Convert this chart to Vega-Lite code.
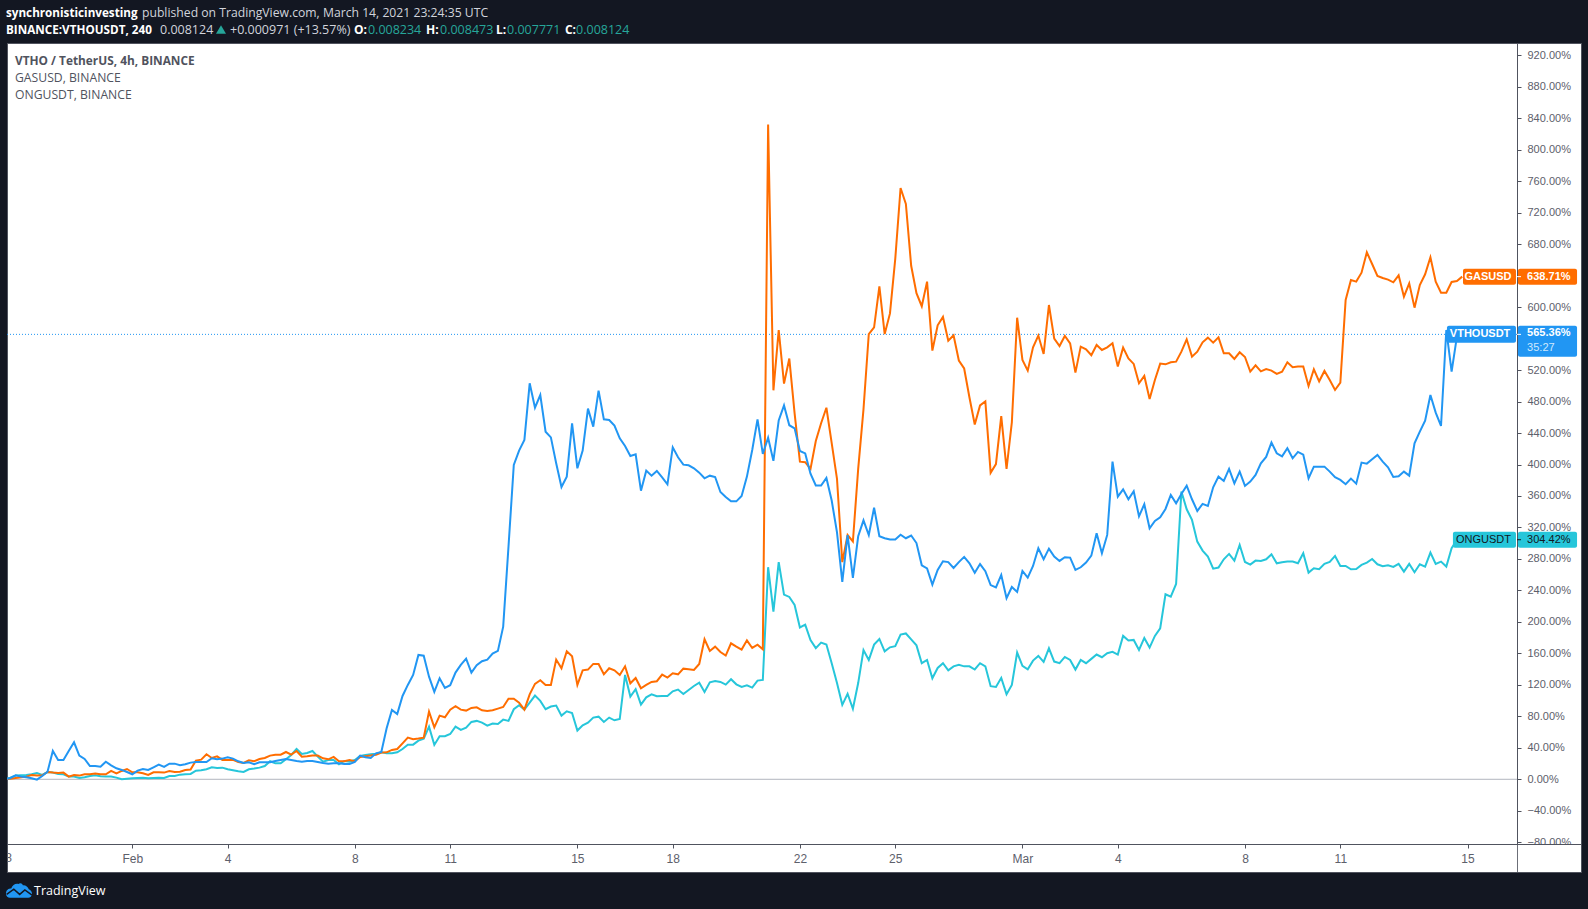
{
"$schema":"https://vega.github.io/schema/vega-lite/v6.json",
"width":1574,"height":829,
"autosize":"none",
"padding":{"left":7,"top":43,"right":7,"bottom":37},
"background":"#131722",
"view":{"fill":"#ffffff","stroke":"#50535e","strokeWidth":1},
"config":{"text":{"align":"left","baseline":"middle","font":"Open Sans","fontSize":12.2,"color":"#d1d4dc"},"font":"Liberation Sans"},
"data":{"values":[{}]},
"datasets":{"bars":[
{"t":"2021-01-28T00:00Z","vtho":0,"gas":0,"ong":0},
{"t":"2021-01-28T04:00Z","vtho":1.7,"gas":0.8,"ong":2.1},
{"t":"2021-01-28T08:00Z","vtho":5.1,"gas":1.7,"ong":4.7},
{"t":"2021-01-28T12:00Z","vtho":3.4,"gas":2.5,"ong":5.1},
{"t":"2021-01-28T16:00Z","vtho":2.5,"gas":3.4,"ong":5.5},
{"t":"2021-01-28T20:00Z","vtho":1.3,"gas":5.5,"ong":6.4},
{"t":"2021-01-29T00:00Z","vtho":-0.4,"gas":4.7,"ong":8},
{"t":"2021-01-29T04:00Z","vtho":4.2,"gas":5.1,"ong":5.5},
{"t":"2021-01-29T08:00Z","vtho":9.7,"gas":9.3,"ong":9.3},
{"t":"2021-01-29T12:00Z","vtho":36,"gas":8.5,"ong":8.5},
{"t":"2021-01-29T16:00Z","vtho":24.6,"gas":8,"ong":6.8},
{"t":"2021-01-29T20:00Z","vtho":24.6,"gas":8.5,"ong":6.4},
{"t":"2021-01-30T00:00Z","vtho":36,"gas":3.4,"ong":3.4},
{"t":"2021-01-30T04:00Z","vtho":47,"gas":5.5,"ong":3.4},
{"t":"2021-01-30T08:00Z","vtho":30.1,"gas":4.7,"ong":1.7},
{"t":"2021-01-30T12:00Z","vtho":25.8,"gas":6.4,"ong":2.5},
{"t":"2021-01-30T16:00Z","vtho":16.9,"gas":6.4,"ong":4.2},
{"t":"2021-01-30T20:00Z","vtho":16.9,"gas":7.2,"ong":5.1},
{"t":"2021-01-31T00:00Z","vtho":16.1,"gas":6.4,"ong":3.8},
{"t":"2021-01-31T04:00Z","vtho":22.4,"gas":6.4,"ong":3.4},
{"t":"2021-01-31T08:00Z","vtho":17.8,"gas":10.6,"ong":3.4},
{"t":"2021-01-31T12:00Z","vtho":14,"gas":7.6,"ong":2.1},
{"t":"2021-01-31T16:00Z","vtho":11.9,"gas":10.6,"ong":0},
{"t":"2021-01-31T20:00Z","vtho":9.3,"gas":13.1,"ong":0.8},
{"t":"2021-02-01T00:00Z","vtho":6.4,"gas":8.9,"ong":1.3},
{"t":"2021-02-01T04:00Z","vtho":11,"gas":8.9,"ong":1.7},
{"t":"2021-02-01T08:00Z","vtho":13.1,"gas":7.6,"ong":2.1},
{"t":"2021-02-01T12:00Z","vtho":11.9,"gas":5.5,"ong":1.3},
{"t":"2021-02-01T16:00Z","vtho":15.2,"gas":8.9,"ong":1.7},
{"t":"2021-02-01T20:00Z","vtho":18.6,"gas":8.9,"ong":2.1},
{"t":"2021-02-02T00:00Z","vtho":15.7,"gas":8.5,"ong":1.7},
{"t":"2021-02-02T04:00Z","vtho":19.9,"gas":10.6,"ong":4.2},
{"t":"2021-02-02T08:00Z","vtho":19.9,"gas":9.3,"ong":4.2},
{"t":"2021-02-02T12:00Z","vtho":17.8,"gas":9.7,"ong":5.9},
{"t":"2021-02-02T16:00Z","vtho":19.1,"gas":11.9,"ong":6.4},
{"t":"2021-02-02T20:00Z","vtho":21.2,"gas":12.3,"ong":6.8},
{"t":"2021-02-03T00:00Z","vtho":22,"gas":23.7,"ong":11},
{"t":"2021-02-03T04:00Z","vtho":22,"gas":25,"ong":11.4},
{"t":"2021-02-03T08:00Z","vtho":22,"gas":31.8,"ong":12.7},
{"t":"2021-02-03T12:00Z","vtho":26.7,"gas":27.1,"ong":15.2},
{"t":"2021-02-03T16:00Z","vtho":25.4,"gas":29.2,"ong":14.4},
{"t":"2021-02-03T20:00Z","vtho":26.3,"gas":24.6,"ong":14.8},
{"t":"2021-02-04T00:00Z","vtho":28,"gas":24.6,"ong":12.7},
{"t":"2021-02-04T04:00Z","vtho":26.3,"gas":24.6,"ong":11.4},
{"t":"2021-02-04T08:00Z","vtho":22.9,"gas":22,"ong":10.2},
{"t":"2021-02-04T12:00Z","vtho":20.8,"gas":20.8,"ong":9.3},
{"t":"2021-02-04T16:00Z","vtho":21.6,"gas":24.1,"ong":12.7},
{"t":"2021-02-04T20:00Z","vtho":19.1,"gas":22.9,"ong":13.6},
{"t":"2021-02-05T00:00Z","vtho":21.6,"gas":25.8,"ong":14.8},
{"t":"2021-02-05T04:00Z","vtho":21.6,"gas":27.1,"ong":16.9},
{"t":"2021-02-05T08:00Z","vtho":21.6,"gas":30.1,"ong":22.9},
{"t":"2021-02-05T12:00Z","vtho":23.3,"gas":31.3,"ong":20.3},
{"t":"2021-02-05T16:00Z","vtho":24.6,"gas":31.3,"ong":20.3},
{"t":"2021-02-05T20:00Z","vtho":25.8,"gas":34.7,"ong":25.4},
{"t":"2021-02-06T00:00Z","vtho":24.6,"gas":31.3,"ong":30.9},
{"t":"2021-02-06T04:00Z","vtho":23.3,"gas":36,"ong":38.5},
{"t":"2021-02-06T08:00Z","vtho":22.4,"gas":28.8,"ong":32.2},
{"t":"2021-02-06T12:00Z","vtho":23.3,"gas":29.2,"ong":33.5},
{"t":"2021-02-06T16:00Z","vtho":23.3,"gas":30.1,"ong":36},
{"t":"2021-02-06T20:00Z","vtho":22,"gas":30.1,"ong":28.8},
{"t":"2021-02-07T00:00Z","vtho":20.8,"gas":26.7,"ong":22.4},
{"t":"2021-02-07T04:00Z","vtho":19.9,"gas":25.4,"ong":24.6},
{"t":"2021-02-07T08:00Z","vtho":20.3,"gas":28.4,"ong":24.6},
{"t":"2021-02-07T12:00Z","vtho":20.3,"gas":22.9,"ong":19.1},
{"t":"2021-02-07T16:00Z","vtho":19.5,"gas":22.9,"ong":23.3},
{"t":"2021-02-07T20:00Z","vtho":19.5,"gas":24.6,"ong":22.4},
{"t":"2021-02-08T00:00Z","vtho":22,"gas":22.9,"ong":24.6},
{"t":"2021-02-08T04:00Z","vtho":30.1,"gas":28.4,"ong":29.6},
{"t":"2021-02-08T08:00Z","vtho":28,"gas":29.2,"ong":30.9},
{"t":"2021-02-08T12:00Z","vtho":27.1,"gas":30.1,"ong":31.8},
{"t":"2021-02-08T16:00Z","vtho":33,"gas":31.3,"ong":32.6},
{"t":"2021-02-08T20:00Z","vtho":34.7,"gas":33.9,"ong":34.3},
{"t":"2021-02-09T00:00Z","vtho":64.8,"gas":34.3,"ong":33},
{"t":"2021-02-09T04:00Z","vtho":88.1,"gas":37.3,"ong":33},
{"t":"2021-02-09T08:00Z","vtho":83,"gas":38.5,"ong":34.3},
{"t":"2021-02-09T12:00Z","vtho":105.9,"gas":45.7,"ong":38.5},
{"t":"2021-02-09T16:00Z","vtho":119.9,"gas":52.9,"ong":44},
{"t":"2021-02-09T20:00Z","vtho":132.6,"gas":50.8,"ong":44},
{"t":"2021-02-10T00:00Z","vtho":158,"gas":51.7,"ong":49.1},
{"t":"2021-02-10T04:00Z","vtho":157.1,"gas":52.9,"ong":51.7},
{"t":"2021-02-10T08:00Z","vtho":130.4,"gas":86,"ong":66.9},
{"t":"2021-02-10T12:00Z","vtho":111,"gas":66,"ong":43.7},
{"t":"2021-02-10T16:00Z","vtho":128.4,"gas":80.9,"ong":54.7},
{"t":"2021-02-10T20:00Z","vtho":116.1,"gas":78.8,"ong":54.7},
{"t":"2021-02-11T00:00Z","vtho":119.5,"gas":88.5,"ong":57.6},
{"t":"2021-02-11T04:00Z","vtho":135.6,"gas":92.8,"ong":66.9},
{"t":"2021-02-11T08:00Z","vtho":145.3,"gas":88.5,"ong":62.7},
{"t":"2021-02-11T12:00Z","vtho":153.3,"gas":87.3,"ong":65.7},
{"t":"2021-02-11T16:00Z","vtho":135.6,"gas":90.7,"ong":72.9},
{"t":"2021-02-11T20:00Z","vtho":144.9,"gas":91.5,"ong":74.2},
{"t":"2021-02-12T00:00Z","vtho":150,"gas":87.7,"ong":72},
{"t":"2021-02-12T04:00Z","vtho":152.1,"gas":86.9,"ong":68.2},
{"t":"2021-02-12T08:00Z","vtho":159.7,"gas":87.7,"ong":70.8},
{"t":"2021-02-12T12:00Z","vtho":163.1,"gas":89.8,"ong":70.3},
{"t":"2021-02-12T16:00Z","vtho":194,"gas":91.9,"ong":75.8},
{"t":"2021-02-12T20:00Z","vtho":295.6,"gas":102.5,"ong":74.2},
{"t":"2021-02-13T00:00Z","vtho":399.4,"gas":102.5,"ong":89},
{"t":"2021-02-13T04:00Z","vtho":417.6,"gas":97.4,"ong":94.1},
{"t":"2021-02-13T08:00Z","vtho":431.2,"gas":88.5,"ong":88.5},
{"t":"2021-02-13T12:00Z","vtho":503.2,"gas":108,"ong":97.4},
{"t":"2021-02-13T16:00Z","vtho":472.2,"gas":121.2,"ong":106.3},
{"t":"2021-02-13T20:00Z","vtho":488.3,"gas":125.8,"ong":99.6},
{"t":"2021-02-14T00:00Z","vtho":441.7,"gas":119.9,"ong":89},
{"t":"2021-02-14T04:00Z","vtho":434.5,"gas":119.9,"ong":92.4},
{"t":"2021-02-14T08:00Z","vtho":401.5,"gas":152.1,"ong":93.6},
{"t":"2021-02-14T12:00Z","vtho":371.4,"gas":141.1,"ong":80.9},
{"t":"2021-02-14T16:00Z","vtho":384.6,"gas":162.7,"ong":86.4},
{"t":"2021-02-14T20:00Z","vtho":452.3,"gas":156.3,"ong":84.3},
{"t":"2021-02-15T00:00Z","vtho":395.2,"gas":119.9,"ong":61.9},
{"t":"2021-02-15T04:00Z","vtho":417.6,"gas":138.5,"ong":68.6},
{"t":"2021-02-15T08:00Z","vtho":471,"gas":139.4,"ong":72},
{"t":"2021-02-15T12:00Z","vtho":448.1,"gas":146.6,"ong":78.4},
{"t":"2021-02-15T16:00Z","vtho":493.8,"gas":146.6,"ong":79.6},
{"t":"2021-02-15T20:00Z","vtho":457.4,"gas":133.4,"ong":72.9},
{"t":"2021-02-16T00:00Z","vtho":456.6,"gas":141.1,"ong":78.4},
{"t":"2021-02-16T04:00Z","vtho":449.4,"gas":138.5,"ong":75},
{"t":"2021-02-16T08:00Z","vtho":433.3,"gas":132.6,"ong":76.7},
{"t":"2021-02-16T12:00Z","vtho":423.5,"gas":143.6,"ong":132.6},
{"t":"2021-02-16T16:00Z","vtho":410.8,"gas":122,"ong":105.1},
{"t":"2021-02-16T20:00Z","vtho":412.9,"gas":128.8,"ong":114.4},
{"t":"2021-02-17T00:00Z","vtho":366.8,"gas":115.7,"ong":94.9},
{"t":"2021-02-17T04:00Z","vtho":392.2,"gas":119.9,"ong":104.2},
{"t":"2021-02-17T08:00Z","vtho":385.8,"gas":123.7,"ong":108},
{"t":"2021-02-17T12:00Z","vtho":391.8,"gas":124.6,"ong":105.5},
{"t":"2021-02-17T16:00Z","vtho":383.7,"gas":133,"ong":105.9},
{"t":"2021-02-17T20:00Z","vtho":374.8,"gas":129.2,"ong":105.9},
{"t":"2021-02-18T00:00Z","vtho":421.8,"gas":134.7,"ong":111.8},
{"t":"2021-02-18T04:00Z","vtho":409.1,"gas":133.4,"ong":114},
{"t":"2021-02-18T08:00Z","vtho":399.8,"gas":140.6,"ong":108.4},
{"t":"2021-02-18T12:00Z","vtho":399,"gas":139.8,"ong":113.5},
{"t":"2021-02-18T16:00Z","vtho":395.2,"gas":138.9,"ong":118.6},
{"t":"2021-02-18T20:00Z","vtho":389.7,"gas":146.6,"ong":122.8},
{"t":"2021-02-19T00:00Z","vtho":382.5,"gas":177.9,"ong":111},
{"t":"2021-02-19T04:00Z","vtho":385.8,"gas":163.1,"ong":123.3},
{"t":"2021-02-19T08:00Z","vtho":384.1,"gas":168.6,"ong":125},
{"t":"2021-02-19T12:00Z","vtho":365.1,"gas":161.8,"ong":123.7},
{"t":"2021-02-19T16:00Z","vtho":358.7,"gas":157.2,"ong":120.3},
{"t":"2021-02-19T20:00Z","vtho":353.2,"gas":172.8,"ong":127.1},
{"t":"2021-02-20T00:00Z","vtho":353.2,"gas":168.6,"ong":120.7},
{"t":"2021-02-20T04:00Z","vtho":360,"gas":164.8,"ong":117.3},
{"t":"2021-02-20T08:00Z","vtho":384.6,"gas":176.6,"ong":119.5},
{"t":"2021-02-20T12:00Z","vtho":418.5,"gas":166.9,"ong":116.5},
{"t":"2021-02-20T16:00Z","vtho":457.4,"gas":171.1,"ong":125.4},
{"t":"2021-02-20T20:00Z","vtho":413.4,"gas":165.2,"ong":126.2},
{"t":"2021-02-21T00:00Z","vtho":434.1,"gas":832,"ong":269.5},
{"t":"2021-02-21T04:00Z","vtho":404.6,"gas":494.3,"ong":213},
{"t":"2021-02-21T08:00Z","vtho":456,"gas":570.9,"ong":276},
{"t":"2021-02-21T12:00Z","vtho":475.1,"gas":502.8,"ong":234.7},
{"t":"2021-02-21T16:00Z","vtho":449.9,"gas":534.6,"ong":231.7},
{"t":"2021-02-21T20:00Z","vtho":445.9,"gas":465,"ong":221.6},
{"t":"2021-02-22T00:00Z","vtho":417.2,"gas":403.6,"ong":192.9},
{"t":"2021-02-22T04:00Z","vtho":414.1,"gas":403,"ong":196.4},
{"t":"2021-02-22T08:00Z","vtho":388.4,"gas":394.5,"ong":176.8},
{"t":"2021-02-22T12:00Z","vtho":373.3,"gas":429.8,"ong":166.7},
{"t":"2021-02-22T16:00Z","vtho":373.3,"gas":452.4,"ong":173.7},
{"t":"2021-02-22T20:00Z","vtho":382.9,"gas":472.1,"ong":171.2},
{"t":"2021-02-23T00:00Z","vtho":354.2,"gas":427.2,"ong":147.5},
{"t":"2021-02-23T04:00Z","vtho":313.8,"gas":381.9,"ong":122.3},
{"t":"2021-02-23T08:00Z","vtho":250.8,"gas":276,"ong":94.6},
{"t":"2021-02-23T12:00Z","vtho":310.3,"gas":310.3,"ong":108.7},
{"t":"2021-02-23T16:00Z","vtho":255.9,"gas":302.2,"ong":89.6},
{"t":"2021-02-23T20:00Z","vtho":308.8,"gas":394.5,"ong":122.3},
{"t":"2021-02-24T00:00Z","vtho":329,"gas":470.1,"ong":164.2},
{"t":"2021-02-24T04:00Z","vtho":310.3,"gas":565.8,"ong":151.6},
{"t":"2021-02-24T08:00Z","vtho":345.1,"gas":574.4,"ong":171.2},
{"t":"2021-02-24T12:00Z","vtho":308.8,"gas":626.3,"ong":178.3},
{"t":"2021-02-24T16:00Z","vtho":306.3,"gas":565.8,"ong":162.6},
{"t":"2021-02-24T20:00Z","vtho":304.8,"gas":592,"ong":167.7},
{"t":"2021-02-25T00:00Z","vtho":304.8,"gas":661.6,"ong":169.2},
{"t":"2021-02-25T04:00Z","vtho":310.8,"gas":751.3,"ong":183.8},
{"t":"2021-02-25T08:00Z","vtho":306.3,"gas":731.2,"ong":185.3},
{"t":"2021-02-25T12:00Z","vtho":309.8,"gas":652.5,"ong":177.8},
{"t":"2021-02-25T16:00Z","vtho":300.2,"gas":617.8,"ong":170.2},
{"t":"2021-02-25T20:00Z","vtho":272,"gas":601.1,"ong":147.5},
{"t":"2021-02-26T00:00Z","vtho":268,"gas":632.4,"ong":151.6},
{"t":"2021-02-26T04:00Z","vtho":247.3,"gas":544.7,"ong":128.4},
{"t":"2021-02-26T08:00Z","vtho":266,"gas":576.9,"ong":141.5},
{"t":"2021-02-26T12:00Z","vtho":277,"gas":587.5,"ong":147.5},
{"t":"2021-02-26T16:00Z","vtho":276,"gas":557.3,"ong":138.4},
{"t":"2021-02-26T20:00Z","vtho":268.5,"gas":564.3,"ong":143.5},
{"t":"2021-02-27T00:00Z","vtho":276,"gas":532.1,"ong":145.5},
{"t":"2021-02-27T04:00Z","vtho":282.6,"gas":522,"ong":143.5},
{"t":"2021-02-27T08:00Z","vtho":274.5,"gas":485.2,"ong":143.5},
{"t":"2021-02-27T12:00Z","vtho":262.4,"gas":450.9,"ong":139.5},
{"t":"2021-02-27T16:00Z","vtho":273.5,"gas":475.1,"ong":147.5},
{"t":"2021-02-27T20:00Z","vtho":264.4,"gas":480.2,"ong":143.5},
{"t":"2021-02-28T00:00Z","vtho":246.8,"gas":389.4,"ong":118.3},
{"t":"2021-02-28T04:00Z","vtho":243.8,"gas":400.5,"ong":117.3},
{"t":"2021-02-28T08:00Z","vtho":259.7,"gas":461.5,"ong":128.9},
{"t":"2021-02-28T12:00Z","vtho":230,"gas":394.4,"ong":108},
{"t":"2021-02-28T16:00Z","vtho":244.4,"gas":453.4,"ong":119.9},
{"t":"2021-02-28T20:00Z","vtho":238.1,"gas":586.5,"ong":161},
{"t":"2021-03-01T00:00Z","vtho":264.8,"gas":532.8,"ong":144.1},
{"t":"2021-03-01T04:00Z","vtho":256.3,"gas":519.3,"ong":139.8},
{"t":"2021-03-01T08:00Z","vtho":271.1,"gas":549,"ong":150.8},
{"t":"2021-03-01T12:00Z","vtho":293.6,"gas":563.8,"ong":156.8},
{"t":"2021-03-01T16:00Z","vtho":279.6,"gas":540.5,"ong":149.2},
{"t":"2021-03-01T20:00Z","vtho":293.1,"gas":602.7,"ong":166.5},
{"t":"2021-03-02T00:00Z","vtho":283,"gas":560,"ong":149.6},
{"t":"2021-03-02T04:00Z","vtho":277.5,"gas":550.6,"ong":147.5},
{"t":"2021-03-02T08:00Z","vtho":282.1,"gas":563.3,"ong":155.5},
{"t":"2021-03-02T12:00Z","vtho":281.7,"gas":554,"ong":151.7},
{"t":"2021-03-02T16:00Z","vtho":266,"gas":516.7,"ong":139.4},
{"t":"2021-03-02T20:00Z","vtho":269.4,"gas":549.8,"ong":151.7},
{"t":"2021-03-03T00:00Z","vtho":275.4,"gas":546.4,"ong":147.5},
{"t":"2021-03-03T04:00Z","vtho":284.2,"gas":538.8,"ong":153},
{"t":"2021-03-03T08:00Z","vtho":312.6,"gas":551.9,"ong":158.5},
{"t":"2021-03-03T12:00Z","vtho":287.2,"gas":545.5,"ong":155.1},
{"t":"2021-03-03T16:00Z","vtho":310.5,"gas":548.9,"ong":160.2},
{"t":"2021-03-03T20:00Z","vtho":403.7,"gas":554,"ong":161.9},
{"t":"2021-03-04T00:00Z","vtho":359.2,"gas":524.4,"ong":158.5},
{"t":"2021-03-04T04:00Z","vtho":368.5,"gas":548.5,"ong":182.2},
{"t":"2021-03-04T08:00Z","vtho":355.8,"gas":534.9,"ong":176.3},
{"t":"2021-03-04T12:00Z","vtho":366,"gas":527.8,"ong":177.1},
{"t":"2021-03-04T16:00Z","vtho":334.2,"gas":503.2,"ong":164.4},
{"t":"2021-03-04T20:00Z","vtho":349.5,"gas":512.5,"ong":179.6},
{"t":"2021-03-05T00:00Z","vtho":319,"gas":483.3,"ong":167.4},
{"t":"2021-03-05T04:00Z","vtho":328.3,"gas":507.4,"ong":182.2},
{"t":"2021-03-05T08:00Z","vtho":333,"gas":528.2,"ong":191.9},
{"t":"2021-03-05T12:00Z","vtho":343.5,"gas":527.3,"ong":235.1},
{"t":"2021-03-05T16:00Z","vtho":361.3,"gas":529.9,"ong":232.1},
{"t":"2021-03-05T20:00Z","vtho":350.7,"gas":530.7,"ong":248.2},
{"t":"2021-03-06T00:00Z","vtho":362.6,"gas":543.4,"ong":365.6},
{"t":"2021-03-06T04:00Z","vtho":373.2,"gas":559.1,"ong":343.1},
{"t":"2021-03-06T08:00Z","vtho":355.8,"gas":537.1,"ong":329.6},
{"t":"2021-03-06T12:00Z","vtho":341,"gas":543.4,"ong":302},
{"t":"2021-03-06T16:00Z","vtho":349.9,"gas":555.3,"ong":290.6},
{"t":"2021-03-06T20:00Z","vtho":347.3,"gas":561.2,"ong":283},
{"t":"2021-03-07T00:00Z","vtho":371,"gas":554.8,"ong":267.7},
{"t":"2021-03-07T04:00Z","vtho":384.6,"gas":561.6,"ong":269},
{"t":"2021-03-07T08:00Z","vtho":379.1,"gas":541.3,"ong":279.6},
{"t":"2021-03-07T12:00Z","vtho":394.4,"gas":541.3,"ong":286.4},
{"t":"2021-03-07T16:00Z","vtho":376.1,"gas":534.1,"ong":277.9},
{"t":"2021-03-07T20:00Z","vtho":391,"gas":542.6,"ong":297.8},
{"t":"2021-03-08T00:00Z","vtho":372.8,"gas":536.6,"ong":276.2},
{"t":"2021-03-08T04:00Z","vtho":378.3,"gas":518,"ong":272.8},
{"t":"2021-03-08T08:00Z","vtho":386.7,"gas":526.1,"ong":277.9},
{"t":"2021-03-08T12:00Z","vtho":401.6,"gas":518.4,"ong":277.5},
{"t":"2021-03-08T16:00Z","vtho":409.6,"gas":521.4,"ong":279.6},
{"t":"2021-03-08T20:00Z","vtho":427.8,"gas":519.3,"ong":285.9},
{"t":"2021-03-09T00:00Z","vtho":414.3,"gas":515.1,"ong":274.5},
{"t":"2021-03-09T04:00Z","vtho":410.4,"gas":518,"ong":275.8},
{"t":"2021-03-09T08:00Z","vtho":420.6,"gas":529.9,"ong":276.6},
{"t":"2021-03-09T12:00Z","vtho":407.9,"gas":523.5,"ong":276.6},
{"t":"2021-03-09T16:00Z","vtho":416,"gas":524.4,"ong":274.5},
{"t":"2021-03-09T20:00Z","vtho":412.6,"gas":524.4,"ong":287.2},
{"t":"2021-03-10T00:00Z","vtho":382.5,"gas":499.8,"ong":262.6},
{"t":"2021-03-10T04:00Z","vtho":397.3,"gas":521,"ong":268.2},
{"t":"2021-03-10T08:00Z","vtho":397.3,"gas":505.7,"ong":266.9},
{"t":"2021-03-10T12:00Z","vtho":397.3,"gas":518.9,"ong":273.7},
{"t":"2021-03-10T16:00Z","vtho":391,"gas":507.4,"ong":276.2},
{"t":"2021-03-10T20:00Z","vtho":383.8,"gas":494.7,"ong":283.8},
{"t":"2021-03-11T00:00Z","vtho":380.4,"gas":504,"ong":271.1},
{"t":"2021-03-11T04:00Z","vtho":374.9,"gas":609.1,"ong":271.1},
{"t":"2021-03-11T08:00Z","vtho":382.1,"gas":634.5,"ong":266.9},
{"t":"2021-03-11T12:00Z","vtho":375.7,"gas":632.4,"ong":267.3},
{"t":"2021-03-11T16:00Z","vtho":402.4,"gas":643.8,"ong":272.4},
{"t":"2021-03-11T20:00Z","vtho":401.1,"gas":669.6,"ong":275.4},
{"t":"2021-03-12T00:00Z","vtho":406.6,"gas":654.8,"ong":280},
{"t":"2021-03-12T04:00Z","vtho":412.1,"gas":639.6,"ong":273.2},
{"t":"2021-03-12T08:00Z","vtho":403.7,"gas":637,"ong":270.7},
{"t":"2021-03-12T12:00Z","vtho":396.5,"gas":634.9,"ong":272},
{"t":"2021-03-12T16:00Z","vtho":384.2,"gas":631.5,"ong":269.8},
{"t":"2021-03-12T20:00Z","vtho":385,"gas":640.4,"ong":273.7},
{"t":"2021-03-13T00:00Z","vtho":391,"gas":613.3,"ong":263.9},
{"t":"2021-03-13T04:00Z","vtho":385.9,"gas":630.2,"ong":273.7},
{"t":"2021-03-13T08:00Z","vtho":427,"gas":599.3,"ong":263.1},
{"t":"2021-03-13T12:00Z","vtho":441.8,"gas":628.1,"ong":273.2},
{"t":"2021-03-13T16:00Z","vtho":455.8,"gas":641.7,"ong":270.3},
{"t":"2021-03-13T20:00Z","vtho":488.4,"gas":663.3,"ong":288.1},
{"t":"2021-03-14T00:00Z","vtho":465.9,"gas":632.4,"ong":273.7},
{"t":"2021-03-14T04:00Z","vtho":449,"gas":618.4,"ong":276.6},
{"t":"2021-03-14T08:00Z","vtho":571,"gas":618.4,"ong":270.3},
{"t":"2021-03-14T12:00Z","vtho":518,"gas":631.9,"ong":293.6},
{"t":"2021-03-14T16:00Z","vtho":562.5,"gas":633.2,"ong":304.2},
{"t":"2021-03-14T20:00Z","vtho":565.36,"gas":638.71,"ong":304.42}
]},
"encoding":{
"x":{"type":"temporal","title":null,
"scale":{"type":"utc","domain":["2021-01-28T01:24:00Z","2021-03-18T13:41:00Z"]},
"axis":{"orient":"bottom","offset":-28,"zindex":1,"grid":false,"title":null,"domainColor":"#50535e","tickColor":"#50535e","tickSize":4,"labelColor":"#5d606b","labelFont":"Liberation Sans","labelFontSize":12,"labelPadding":5,"labelOverlap":false,"labelFlush":false,
"values":["2021-02-01T00:00:00Z","2021-02-04T00:00:00Z","2021-02-08T00:00:00Z","2021-02-11T00:00:00Z","2021-02-15T00:00:00Z","2021-02-18T00:00:00Z","2021-02-22T00:00:00Z","2021-02-25T00:00:00Z","2021-03-01T00:00:00Z","2021-03-04T00:00:00Z","2021-03-08T00:00:00Z","2021-03-11T00:00:00Z","2021-03-15T00:00:00Z"],
"labelExpr":"utcdate(datum.value)===1 ? utcFormat(datum.value,'%b') : utcFormat(datum.value,'%-d')"}},
"y":{"type":"quantitative","title":null,
"scale":{"domain":[-117.8,935.6],"nice":false,"zero":false,"padding":0},
"axis":{"orient":"right","offset":-64,"zindex":0,"grid":false,"title":null,"domainColor":"#50535e","tickColor":"#50535e","tickSize":4,"labelColor":"#5d606b","labelFont":"Liberation Sans","labelFontSize":11,"labelPadding":6,"labelOverlap":false,"labelFlush":false,
"values":[-80,-40,0,40,80,120,160,200,240,280,320,360,400,440,480,520,560,600,640,680,720,760,800,840,880,920],
"labelExpr":"format(datum.value,'.2f')+'%'"}}
},
"layer":[
{"mark":{"type":"rule","color":"#b2b5be","strokeWidth":1},"encoding":{"x":{"datum":{"year":2021,"month":1,"date":28,"hours":1,"minutes":24,"utc":true}},"x2":{"datum":{"year":2021,"month":3,"date":16,"hours":13,"minutes":24,"utc":true}},"y":{"datum":0}}},
{"mark":{"type":"rule","color":"#2196f3","strokeWidth":1,"strokeDash":[1,2]},"encoding":{"x":{"datum":{"year":2021,"month":1,"date":28,"hours":1,"minutes":24,"utc":true}},"x2":{"datum":{"year":2021,"month":3,"date":16,"hours":13,"minutes":24,"utc":true}},"y":{"datum":565.36}}},
{"data":{"name":"bars"},"mark":{"type":"line","color":"#26c6da","strokeWidth":2,"clip":true},"encoding":{"x":{"field":"t"},"y":{"field":"ong"}}},
{"data":{"name":"bars"},"mark":{"type":"line","color":"#ff6d00","strokeWidth":2,"clip":true},"encoding":{"x":{"field":"t"},"y":{"field":"gas"}}},
{"data":{"name":"bars"},"mark":{"type":"line","color":"#2196f3","strokeWidth":2,"clip":true},"encoding":{"x":{"field":"t"},"y":{"field":"vtho"}}},
{"mark":{"type":"rect","color":"#ffffff"},"encoding":{"x":{"datum":{"year":2021,"month":3,"date":16,"hours":14,"utc":true}},"x2":{"datum":{"year":2021,"month":3,"date":18,"hours":13,"minutes":41,"utc":true}},"y":{"datum":-82.2},"y2":{"datum":-117.8}}},
{"mark":{"type":"bar","orient":"horizontal","size":16,"color":"#ff6d00","cornerRadius":2},"encoding":{"x":{"datum":{"year":2021,"month":3,"date":14,"hours":20,"minutes":36,"utc":true}},"x2":{"datum":{"year":2021,"month":3,"date":16,"hours":12,"minutes":36,"utc":true}},"y":{"datum":638.71}}},
{"mark":{"type":"bar","orient":"horizontal","size":17,"color":"#2196f3","cornerRadius":2},"encoding":{"x":{"datum":{"year":2021,"month":3,"date":14,"hours":8,"minutes":30,"utc":true}},"x2":{"datum":{"year":2021,"month":3,"date":16,"hours":12,"minutes":36,"utc":true}},"y":{"datum":565.36}}},
{"mark":{"type":"bar","orient":"horizontal","size":16,"color":"#26c6da","cornerRadius":2},"encoding":{"x":{"datum":{"year":2021,"month":3,"date":14,"hours":13,"utc":true}},"x2":{"datum":{"year":2021,"month":3,"date":16,"hours":12,"minutes":36,"utc":true}},"y":{"datum":304.42}}},
{"mark":{"type":"bar","orient":"horizontal","size":16,"color":"#ff6d00","cornerRadius":2},"encoding":{"x":{"datum":{"year":2021,"month":3,"date":16,"hours":14,"minutes":6,"utc":true}},"x2":{"datum":{"year":2021,"month":3,"date":18,"hours":10,"minutes":42,"utc":true}},"y":{"datum":638.71}}},
{"mark":{"type":"bar","orient":"horizontal","size":31,"yOffset":7,"color":"#2196f3","cornerRadius":2},"encoding":{"x":{"datum":{"year":2021,"month":3,"date":16,"hours":14,"minutes":6,"utc":true}},"x2":{"datum":{"year":2021,"month":3,"date":18,"hours":10,"minutes":42,"utc":true}},"y":{"datum":565.36}}},
{"mark":{"type":"bar","orient":"horizontal","size":16,"color":"#26c6da","cornerRadius":2},"encoding":{"x":{"datum":{"year":2021,"month":3,"date":16,"hours":14,"minutes":6,"utc":true}},"x2":{"datum":{"year":2021,"month":3,"date":18,"hours":10,"minutes":42,"utc":true}},"y":{"datum":304.42}}},
{"mark":{"type":"rule","color":"#ffffff","strokeWidth":1},"encoding":{"x":{"datum":{"year":2021,"month":3,"date":16,"hours":13,"minutes":24,"utc":true}},"x2":{"datum":{"year":2021,"month":3,"date":16,"hours":16,"minutes":24,"utc":true}},"y":{"datum":638.71}}},
{"mark":{"type":"rule","color":"#ffffff","strokeWidth":1},"encoding":{"x":{"datum":{"year":2021,"month":3,"date":16,"hours":13,"minutes":24,"utc":true}},"x2":{"datum":{"year":2021,"month":3,"date":16,"hours":16,"minutes":24,"utc":true}},"y":{"datum":565.36}}},
{"mark":{"type":"rule","color":"#131722","strokeWidth":1},"encoding":{"x":{"datum":{"year":2021,"month":3,"date":16,"hours":13,"minutes":24,"utc":true}},"x2":{"datum":{"year":2021,"month":3,"date":16,"hours":16,"minutes":24,"utc":true}},"y":{"datum":304.42}}},
{"mark":{"type":"text","text":"GASUSD","align":"center","font":"Liberation Sans","fontSize":11,"fontWeight":"bold","color":"#ffffff"},"encoding":{"x":{"datum":{"year":2021,"month":3,"date":15,"hours":15,"minutes":30,"utc":true}},"y":{"datum":638.71}}},
{"mark":{"type":"text","text":"VTHOUSDT","align":"center","font":"Liberation Sans","fontSize":11,"fontWeight":"bold","color":"#ffffff"},"encoding":{"x":{"datum":{"year":2021,"month":3,"date":15,"hours":9,"minutes":30,"utc":true}},"y":{"datum":565.36}}},
{"mark":{"type":"text","text":"ONGUSDT","align":"center","font":"Liberation Sans","fontSize":11,"color":"#131722"},"encoding":{"x":{"datum":{"year":2021,"month":3,"date":15,"hours":12,"utc":true}},"y":{"datum":304.42}}},
{"mark":{"type":"text","text":"638.71%","font":"Liberation Sans","fontSize":11,"fontWeight":"bold","color":"#ffffff"},"encoding":{"x":{"datum":{"year":2021,"month":3,"date":16,"hours":21,"utc":true}},"y":{"datum":638.71}}},
{"mark":{"type":"text","text":"565.36%","dy":-1,"font":"Liberation Sans","fontSize":11,"fontWeight":"bold","color":"#ffffff"},"encoding":{"x":{"datum":{"year":2021,"month":3,"date":16,"hours":21,"utc":true}},"y":{"datum":565.36}}},
{"mark":{"type":"text","text":"35:27","dy":14,"font":"Liberation Sans","fontSize":11,"color":"#cfe8fd"},"encoding":{"x":{"datum":{"year":2021,"month":3,"date":16,"hours":21,"utc":true}},"y":{"datum":565.36}}},
{"mark":{"type":"text","text":"304.42%","font":"Liberation Sans","fontSize":11,"color":"#131722"},"encoding":{"x":{"datum":{"year":2021,"month":3,"date":16,"hours":21,"utc":true}},"y":{"datum":304.42}}},
{"mark":{"type":"text","text":"28","align":"center","clip":true,"font":"Liberation Sans","fontSize":12,"color":"#5d606b"},"encoding":{"x":{"datum":{"year":2021,"month":1,"date":28,"hours":0,"utc":true}},"y":{"datum":-99.8}}},
{"mark":{"type":"text","text":"VTHO / TetherUS, 4h, BINANCE","fontWeight":"bold","fontSize":11.85,"color":"#50535e"},"encoding":{"x":{"datum":{"year":2021,"month":1,"date":28,"hours":7,"minutes":26,"utc":true}},"y":{"datum":913.3}}},
{"mark":{"type":"text","text":"GASUSD, BINANCE","color":"#50535e"},"encoding":{"x":{"datum":{"year":2021,"month":1,"date":28,"hours":7,"minutes":26,"utc":true}},"y":{"datum":891.7}}},
{"mark":{"type":"text","text":"ONGUSDT, BINANCE","color":"#50535e"},"encoding":{"x":{"datum":{"year":2021,"month":1,"date":28,"hours":7,"minutes":26,"utc":true}},"y":{"datum":870.1}}},
{"mark":{"type":"text","text":"synchronisticinvesting","fontWeight":"bold","fontSize":11.7,"color":"#ffffff"},"encoding":{"x":{"datum":{"year":2021,"month":1,"date":28,"minutes":38,"utc":true}},"y":{"datum":973.7}}},
{"mark":{"type":"text","text":"published on TradingView.com, March 14, 2021 23:24:35 UTC"},"encoding":{"x":{"datum":{"year":2021,"month":2,"date":1,"hours":7,"minutes":18,"utc":true}},"y":{"datum":973.7}}},
{"mark":{"type":"text","text":"BINANCE:VTHOUSDT, 240","fontWeight":"bold","fontSize":11.7,"color":"#ffffff"},"encoding":{"x":{"datum":{"year":2021,"month":1,"date":28,"minutes":38,"utc":true}},"y":{"datum":952.7}}},
{"mark":{"type":"text","text":"0.008124","fontSize":12.5},"encoding":{"x":{"datum":{"year":2021,"month":2,"date":1,"hours":20,"minutes":54,"utc":true}},"y":{"datum":952.7}}},
{"mark":{"type":"point","shape":"triangle-up","filled":true,"size":100,"opacity":1,"color":"#26a69a"},"encoding":{"x":{"datum":{"year":2021,"month":2,"date":3,"hours":18,"minutes":57,"utc":true}},"y":{"datum":952.7}}},
{"mark":{"type":"text","text":"+0.000971 (+13.57%)","fontSize":12.5},"encoding":{"x":{"datum":{"year":2021,"month":2,"date":4,"hours":1,"minutes":45,"utc":true}},"y":{"datum":952.7}}},
{"mark":{"type":"text","text":"O:","fontWeight":"bold","fontSize":12,"color":"#ffffff"},"encoding":{"x":{"datum":{"year":2021,"month":2,"date":7,"hours":23,"minutes":24,"utc":true}},"y":{"datum":952.7}}},
{"mark":{"type":"text","text":"0.008234","fontSize":12.5,"color":"#26a69a"},"encoding":{"x":{"datum":{"year":2021,"month":2,"date":8,"hours":9,"minutes":54,"utc":true}},"y":{"datum":952.7}}},
{"mark":{"type":"text","text":"H:","fontWeight":"bold","fontSize":12,"color":"#ffffff"},"encoding":{"x":{"datum":{"year":2021,"month":2,"date":10,"hours":5,"minutes":42,"utc":true}},"y":{"datum":952.7}}},
{"mark":{"type":"text","text":"0.008473","fontSize":12.5,"color":"#26a69a"},"encoding":{"x":{"datum":{"year":2021,"month":2,"date":10,"hours":16,"minutes":18,"utc":true}},"y":{"datum":952.7}}},
{"mark":{"type":"text","text":"L:","fontWeight":"bold","fontSize":12,"color":"#ffffff"},"encoding":{"x":{"datum":{"year":2021,"month":2,"date":12,"hours":10,"minutes":36,"utc":true}},"y":{"datum":952.7}}},
{"mark":{"type":"text","text":"0.007771","fontSize":12.5,"color":"#26a69a"},"encoding":{"x":{"datum":{"year":2021,"month":2,"date":12,"hours":18,"minutes":54,"utc":true}},"y":{"datum":952.7}}},
{"mark":{"type":"text","text":"C:","fontWeight":"bold","fontSize":12,"color":"#ffffff"},"encoding":{"x":{"datum":{"year":2021,"month":2,"date":14,"hours":14,"minutes":36,"utc":true}},"y":{"datum":952.7}}},
{"mark":{"type":"text","text":"0.008124","fontSize":12.5,"color":"#26a69a"},"encoding":{"x":{"datum":{"year":2021,"month":2,"date":14,"hours":23,"utc":true}},"y":{"datum":952.7}}},
{"mark":{"type":"point","filled":true,"opacity":1,"size":676,"strokeWidth":0,"color":"#2196f3","shape":"M-1,0.25 C-1,-0.05 -0.8,-0.15 -0.6,-0.15 C-0.5,-0.4 -0.3,-0.55 -0.05,-0.5 C0.1,-0.6 0.25,-0.55 0.3,-0.4 C0.45,-0.45 0.7,-0.3 0.75,-0.1 C0.9,-0.05 1,0.1 1,0.25 C1,0.45 0.85,0.55 0.7,0.55 L-0.7,0.55 C-0.85,0.55 -1,0.45 -1,0.25 Z"},"encoding":{"x":{"datum":{"year":2021,"month":1,"date":28,"hours":10,"minutes":28,"utc":true}},"y":{"datum":-141.3}}},
{"mark":{"type":"point","filled":false,"opacity":1,"size":676,"strokeWidth":1.5,"color":"#131722","shape":"M-0.95,0.3 L-0.4,-0.1 L0.05,0.3 L0.45,-0.05 L1,0.35"},"encoding":{"x":{"datum":{"year":2021,"month":1,"date":28,"hours":10,"minutes":28,"utc":true}},"y":{"datum":-141.3}}},
{"mark":{"type":"text","text":"TradingView","fontSize":12.5,"color":"#ffffff"},"encoding":{"x":{"datum":{"year":2021,"month":1,"date":28,"hours":21,"minutes":47,"utc":true}},"y":{"datum":-142.5}}}
]
}
